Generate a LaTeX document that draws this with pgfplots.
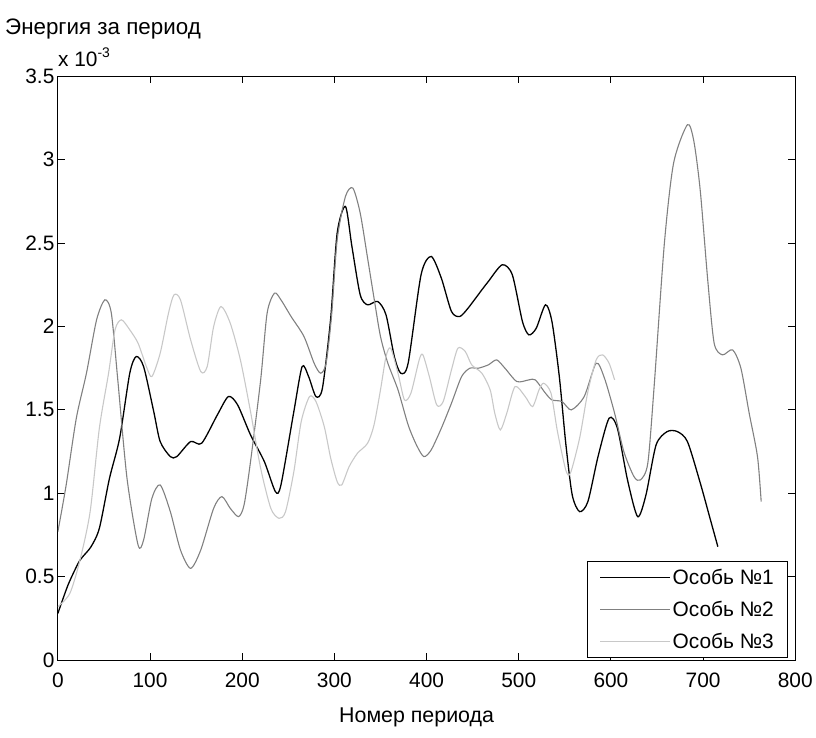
\documentclass[border=0pt]{standalone}
\usepackage{fontspec}
\setmainfont{Liberation Sans}
\usepackage{pgfplots}
\pgfplotsset{compat=1.18}
\definecolor{s2}{RGB}{128,128,128}
\definecolor{s3}{RGB}{200,200,200}
\begin{document}
\begin{tikzpicture}
\begin{axis}[
  width=739bp, height=585bp, scale only axis,
  xmin=0, xmax=800, ymin=0, ymax=3.5,
  xtick={0,100,...,800}, ytick={0,0.5,1,1.5,2,2.5,3,3.5},
  tick align=inside, xtick pos=both, ytick pos=both,
  major tick length=7bp,
  axis line style={line width=1bp},
  tick style={line width=1bp, black},
  /pgf/number format/assume math mode=true,
  yticklabel style={/pgf/number format/fixed, /pgf/number format/precision=1, font=\fontsize{21}{24}\selectfont},
  xticklabel style={font=\fontsize{21}{24}\selectfont, yshift=-9bp},
  legend style={at={(rel axis cs:1,0)}, anchor=south east, xshift=-7bp, yshift=2bp,
    font=\fontsize{21}{24}\selectfont, draw=black, line width=1bp, row sep=11bp,
    inner xsep=12bp, inner ysep=6bp},
  legend cell align=left,
  legend image code/.code={\draw[#1] (0bp,0bp) -- (70bp,0bp);},
  every axis plot/.append style={smooth, tension=0.45},
]
\addplot[black, line width=1.3bp] coordinates {
(0,0.28) (11,0.45) (22,0.58) (27,0.62) (36,0.68) (45,0.79) (56,1.09) (67,1.33)
(78,1.72) (85,1.82) (93,1.76) (104,1.49) (111,1.31) (122,1.22) (129,1.22) (144,1.31)
(156,1.30) (173,1.47) (185,1.58) (195,1.53) (209,1.35) (224,1.19) (236,1.01) (242,1.05)
(256,1.49) (265,1.76) (272,1.70) (280,1.58) (287,1.63) (296,2.05) (303,2.56) (312,2.72)
(319,2.48) (328,2.19) (336,2.13) (347,2.15) (356,2.07) (365,1.82) (372,1.72) (380,1.78)
(394,2.31) (405,2.42) (416,2.29) (427,2.09) (436,2.06) (445,2.11) (460,2.22) (467,2.27)
(482,2.37) (493,2.31) (504,2.03) (511,1.95) (519,1.99) (529,2.13) (536,2.03) (544,1.70)
(551,1.30) (558,0.99) (566,0.89) (575,0.95) (586,1.22) (598,1.45) (607,1.39) (618,1.08)
(629,0.86) (638,0.99) (649,1.29) (661,1.37) (672,1.37) (683,1.31) (697,1.06) (708,0.84)
(716,0.68)
};
\addlegendentry{Особь №1}
\addplot[s2, line width=1.1bp] coordinates {
(0,0.77) (9,1.05) (20,1.45) (31,1.72) (42,2.04) (51,2.16) (58,2.08) (65,1.68)
(75,1.09) (87,0.69) (93,0.72) (102,0.97) (111,1.05) (122,0.89) (133,0.66) (144,0.55)
(155,0.66) (169,0.91) (178,0.98) (187,0.91) (196,0.86) (202,0.93) (209,1.19) (220,1.68)
(227,2.08) (235,2.20) (242,2.16) (253,2.06) (267,1.94) (278,1.78) (285,1.72) (291,1.78)
(297,2.07) (303,2.52) (312,2.78) (320,2.83) (328,2.68) (336,2.41) (343,2.17) (350,1.94)
(358,1.78) (369,1.62) (380,1.41) (389,1.29) (397,1.22) (405,1.26) (416,1.39) (427,1.54)
(438,1.70) (447,1.75) (456,1.75) (467,1.77) (476,1.80) (485,1.75) (498,1.67) (511,1.68)
(518,1.68) (529,1.60) (536,1.56) (547,1.55) (557,1.50) (571,1.58) (584,1.78) (593,1.69)
(604,1.48) (614,1.25) (625,1.10) (632,1.08) (640,1.18) (647,1.65) (658,2.50) (668,2.98)
(683,3.21) (690,3.11) (697,2.81) (705,2.28) (712,1.90) (721,1.83) (732,1.86) (741,1.75)
(750,1.48) (759,1.22) (763,0.95)
};
\addlegendentry{Особь №2}
\addplot[s3, line width=1.1bp] coordinates {
(0,0.32) (13,0.40) (24,0.60) (35,0.89) (45,1.39) (55,1.72) (62,1.98) (69,2.04)
(78,1.98) (87,1.90) (96,1.76) (102,1.70) (111,1.84) (120,2.08) (126,2.19) (133,2.16)
(144,1.92) (155,1.73) (162,1.76) (169,2.00) (177,2.12) (187,2.02) (198,1.80) (209,1.49)
(220,1.15) (231,0.91) (240,0.85) (247,0.89) (256,1.13) (264,1.43) (273,1.58) (280,1.55)
(289,1.40) (296,1.21) (303,1.07) (308,1.05) (316,1.16) (325,1.24) (336,1.30) (343,1.41)
(350,1.62) (356,1.82) (361,1.87) (369,1.72) (376,1.56) (383,1.60) (392,1.80) (396,1.83)
(403,1.70) (411,1.53) (418,1.55) (427,1.74) (434,1.87) (442,1.85) (449,1.77) (460,1.72)
(469,1.62) (474,1.48) (480,1.38) (487,1.48) (496,1.64) (507,1.58) (515,1.52) (522,1.62)
(527,1.66) (535,1.60) (542,1.37) (551,1.14) (556,1.12) (566,1.33) (575,1.61) (584,1.80)
(591,1.83) (598,1.78) (604,1.68)
};
\addlegendentry{Особь №3}
\end{axis}
\node[anchor=base west, font=\fontsize{22.5}{25}\selectfont, inner sep=0] at ([xshift=-53bp,yshift=42bp]current axis.north west) {Энергия за период};
\node[anchor=base west, font=\fontsize{21}{24}\selectfont, inner sep=0] at ([xshift=0bp,yshift=10bp]current axis.north west) {x 10\raisebox{9bp}{\fontsize{14}{16}\selectfont -3}};
\node[anchor=base, font=\fontsize{21.5}{24}\selectfont, inner sep=0] at ([xshift=-10bp,yshift=-63bp]current axis.south) {Номер периода};
\path ([xshift=-58bp,yshift=-77.5bp]current axis.south west) rectangle ([xshift=19bp,yshift=76.5bp]current axis.north east);
\end{tikzpicture}
\end{document}
